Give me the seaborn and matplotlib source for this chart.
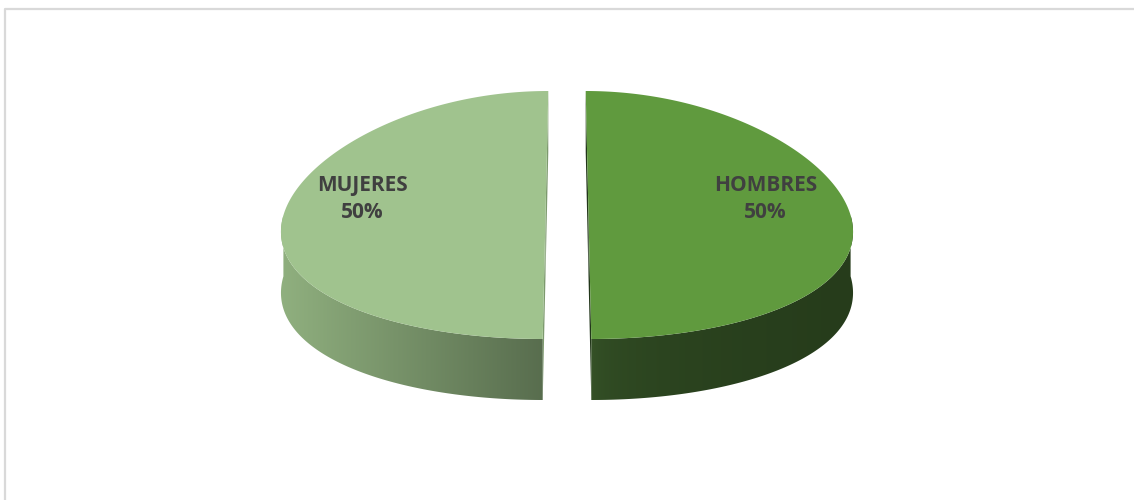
import numpy as np
import matplotlib
matplotlib.use("Agg")
import matplotlib.pyplot as plt
from matplotlib.patches import Polygon
from matplotlib.colors import to_rgb
import seaborn as sns

# ---- data ----
categories = ["HOMBRES", "MUJERES"]
values = [50, 50]
label_texts = ["HOMBRES\n50%", "MUJERES\n50%"]

# ---- styles ----
top_colors = ["#609a3e", "#a0c38e"]
side_cut_colors = ["#3b5b2c", "#586d4e"]     # side colour next to the cut
side_outer_colors = ["#263c1b", "#90b07f"]   # side colour at the outer end
side_gamma = [0.25, 1.0]
cut_face_colors = ["#22361a", "#7d9a6e"]

sns.set_theme(style="white")
plt.rcParams['font.family'] = ['Open Sans', 'DejaVu Sans']

W, H = 1134, 500
fig = plt.figure(figsize=(W / 100, H / 100), dpi=100)
ax = fig.add_axes([0, 0, 1, 1])
ax.set_xlim(0, W)
ax.set_ylim(H, 0)
ax.axis('off')

# chart frame
ax.plot([5, 5, W], [H, 9, 9], color="#d9d9d9", lw=1.6, solid_capstyle="butt", zorder=0)

CX, CY = 567, 215
A, B = 262, 124
DEPTH = 61
K = 0.13
EXPLODE = 21.5


def proj(px, py, h):
    """pie-plane coords (px right, py far) + height flag -> screen"""
    s = 1 - K * py / B
    return CX + px * s, CY - py + h * DEPTH


total = float(sum(values))
fr = np.array(values) / total
cum = np.concatenate([[0], np.cumsum(fr)])

for i, cat in enumerate(categories):
    t1 = np.deg2rad(90 - 360 * cum[i])
    t2 = np.deg2rad(90 - 360 * cum[i + 1])
    m = (t1 + t2) / 2
    ox, oy = EXPLODE * np.cos(m), EXPLODE * (B / A) * np.sin(m)

    def rim(t, h):
        return proj(A * np.cos(t) + ox, B * np.sin(t) + oy, h)

    def centre(h):
        return proj(ox, oy, h)

    # cut (radial) faces
    for te in (t1, t2):
        pts = [centre(0), rim(te, 0), rim(te, 1), centre(1)]
        ax.add_patch(Polygon(pts, closed=True, fc=cut_face_colors[i], ec="none", zorder=2))

    # curved side, visible where sin(t) < 0, filled with a horizontal gradient
    ts = np.linspace(t1, t2, 600)
    vis = ts[np.sin(ts) < 0]
    if len(vis) > 1:
        top = [rim(t, 0) for t in vis]
        bot = [rim(t, 1) for t in vis[::-1]]
        side = Polygon(top + bot, closed=True, fc="none", ec="none", zorder=3)
        ax.add_patch(side)
        xs = [p[0] for p in top]
        x0, x1 = min(xs), max(xs)
        ys = [p[1] for p in top + bot]
        y0, y1 = min(ys), max(ys)
        xc = centre(0)[0]
        gx = np.linspace(x0, x1, 512)
        dist = np.abs(gx - xc)
        p = (dist - dist.min()) / max(dist.max() - dist.min(), 1e-9)
        p = p ** side_gamma[i]
        c0 = np.array(to_rgb(side_cut_colors[i]))
        c1 = np.array(to_rgb(side_outer_colors[i]))
        img = (c0[None, :] + (c1 - c0)[None, :] * p[:, None])[None, :, :]
        im = ax.imshow(img, extent=(x0 - 1, x1 + 1, y1 + 1, y0 - 1), aspect="auto",
                       interpolation="bilinear", zorder=3)
        im.set_clip_path(side)

    # top face
    tt = np.linspace(t1, t2, 400)
    pts = [centre(0)] + [rim(t, 0) for t in tt]
    ax.add_patch(Polygon(pts, closed=True, fc=top_colors[i], ec="none", zorder=4))

    # label
    lx, ly = proj(0.7 * A * np.cos(m) + ox, 0.13 * B + oy, 0)
    ax.text(lx - 3, ly, label_texts[i], ha="center", va="center", fontsize=15,
            fontweight="bold", color="#404040", linespacing=1.42, zorder=6)

ax.set_xlim(0, W)
ax.set_ylim(H, 0)
fig.savefig("out.png", dpi=100, facecolor="white")
